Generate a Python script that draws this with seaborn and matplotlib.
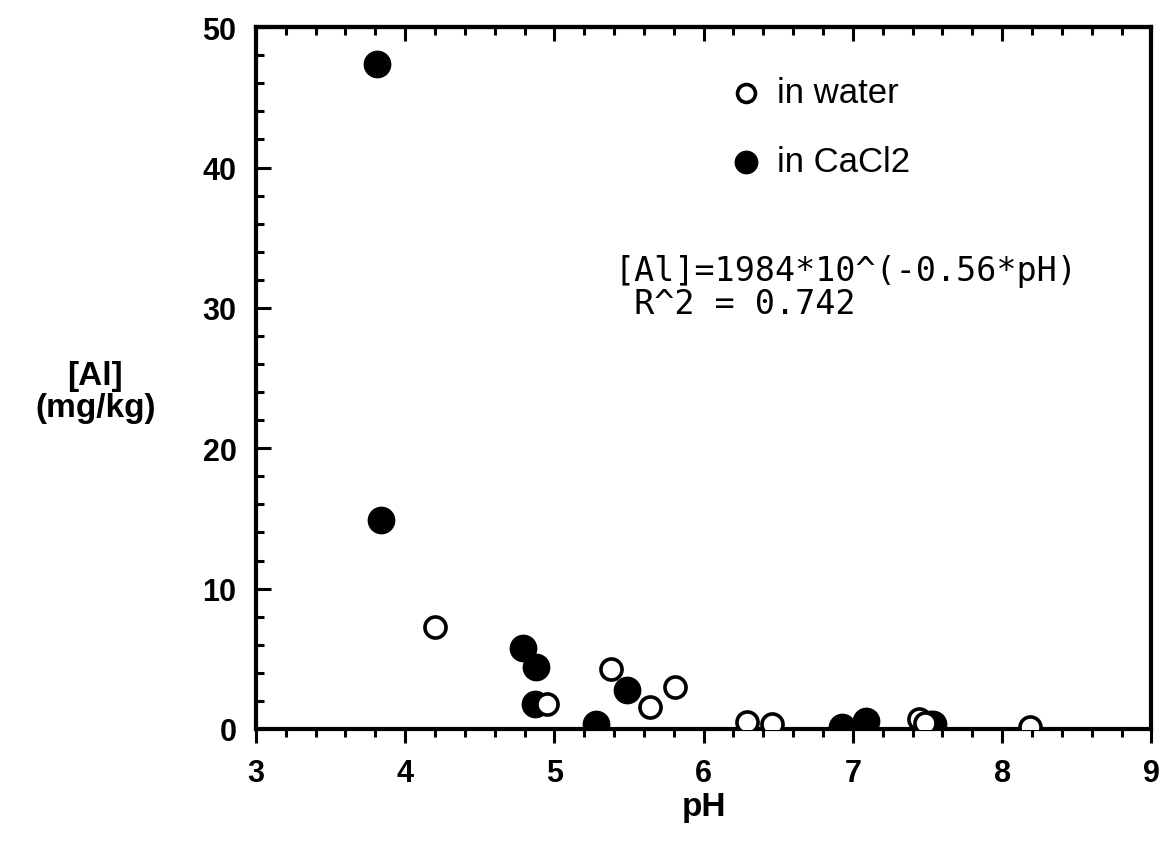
import matplotlib
matplotlib.use("Agg")
import matplotlib.pyplot as plt
import seaborn as sns
import pandas as pd
from matplotlib.ticker import MultipleLocator

sns.set_theme(style="white")
plt.rcParams['font.family'] = ['Liberation Sans', 'DejaVu Sans']

# data
water_ph = [4.20, 4.95, 5.38, 5.64, 5.81, 6.29, 6.46, 7.44, 7.48, 8.19]
water_al = [7.3, 1.8, 4.3, 1.6, 3.0, 0.5, 0.35, 0.7, 0.4, 0.15]
cacl_ph = [3.81, 3.84, 4.79, 4.88, 4.87, 5.28, 5.49, 6.93, 7.09, 7.52, 7.54]
cacl_al = [47.4, 14.9, 5.8, 4.4, 1.8, 0.35, 2.8, 0.15, 0.55, 0.35, 0.35]

df_w = pd.DataFrame({"pH": water_ph, "Al": water_al})
df_c = pd.DataFrame({"pH": cacl_ph, "Al": cacl_al})

fig = plt.figure(figsize=(11.63, 8.54), dpi=100)
ax = fig.add_axes([0.220, 0.1452, 0.770, 0.8218])

sns.scatterplot(data=df_c, x="pH", y="Al", ax=ax, s=360, color="black",
                edgecolor="black", linewidth=1, marker="o", label="in CaCl2", zorder=3)
sns.scatterplot(data=df_w, x="pH", y="Al", ax=ax, s=230, facecolor="white",
                edgecolor="black", linewidth=2.6, marker="o", label="in water", zorder=4)

ax.set_xlim(3, 9)
ax.set_ylim(0, 50)
ax.xaxis.set_major_locator(MultipleLocator(1))
ax.xaxis.set_minor_locator(MultipleLocator(0.2))
ax.yaxis.set_major_locator(MultipleLocator(10))
ax.yaxis.set_minor_locator(MultipleLocator(2))

for sp in ax.spines.values():
    sp.set_color("black")
    sp.set_linewidth(3)
    sp.set_visible(True)

ax.tick_params(axis="x", which="major", direction="out", length=10, width=2.2,
               bottom=True, top=False, labelsize=22, color="black", pad=11)
ax.tick_params(axis="x", which="minor", direction="out", length=6, width=2.2,
               bottom=True, top=False, color="black")
ax.tick_params(axis="y", which="major", direction="in", length=11, width=2.2,
               left=True, right=False, labelsize=22, color="black", pad=14)
ax.tick_params(axis="y", which="minor", direction="in", length=6, width=2.2,
               left=True, right=False, color="black")
for lab in ax.get_xticklabels() + ax.get_yticklabels():
    lab.set_color("black")
    lab.set_fontweight("bold")

top = ax.secondary_xaxis("top")
top.xaxis.set_major_locator(MultipleLocator(1))
top.xaxis.set_minor_locator(MultipleLocator(0.2))
top.tick_params(axis="x", which="major", direction="in", length=10, width=2.2, labeltop=False, color="black")
top.tick_params(axis="x", which="minor", direction="in", length=6, width=2.2, color="black")
top.spines["top"].set_linewidth(3)

ax.set_xlabel("pH", fontsize=24, fontweight="bold", labelpad=2, color="black")
ax.set_ylabel("")
fig.text(0.082, 0.54, "[Al]\n(mg/kg)", fontsize=24, fontweight="bold",
         ha="center", va="center", linespacing=1.05, color="black")

handles, labels = ax.get_legend_handles_labels()
order = [1, 0]
leg = ax.legend([handles[i] for i in order], [labels[i] for i in order],
                loc="upper left", bbox_to_anchor=(0.495, 0.975), frameon=False,
                fontsize=25, markerscale=0.85, handlelength=0.9, handletextpad=0.45,
                labelspacing=1.05)
for t in leg.get_texts():
    t.set_color("black")

ax.text(0.40, 0.63, "[Al]=1984*10^(-0.56*pH)\n R^2 = 0.742", transform=ax.transAxes,
        fontsize=24, family="DejaVu Sans Mono", ha="left", va="center",
        linespacing=1.0, color="black")

fig.savefig("out.png", dpi=100, facecolor="white")
